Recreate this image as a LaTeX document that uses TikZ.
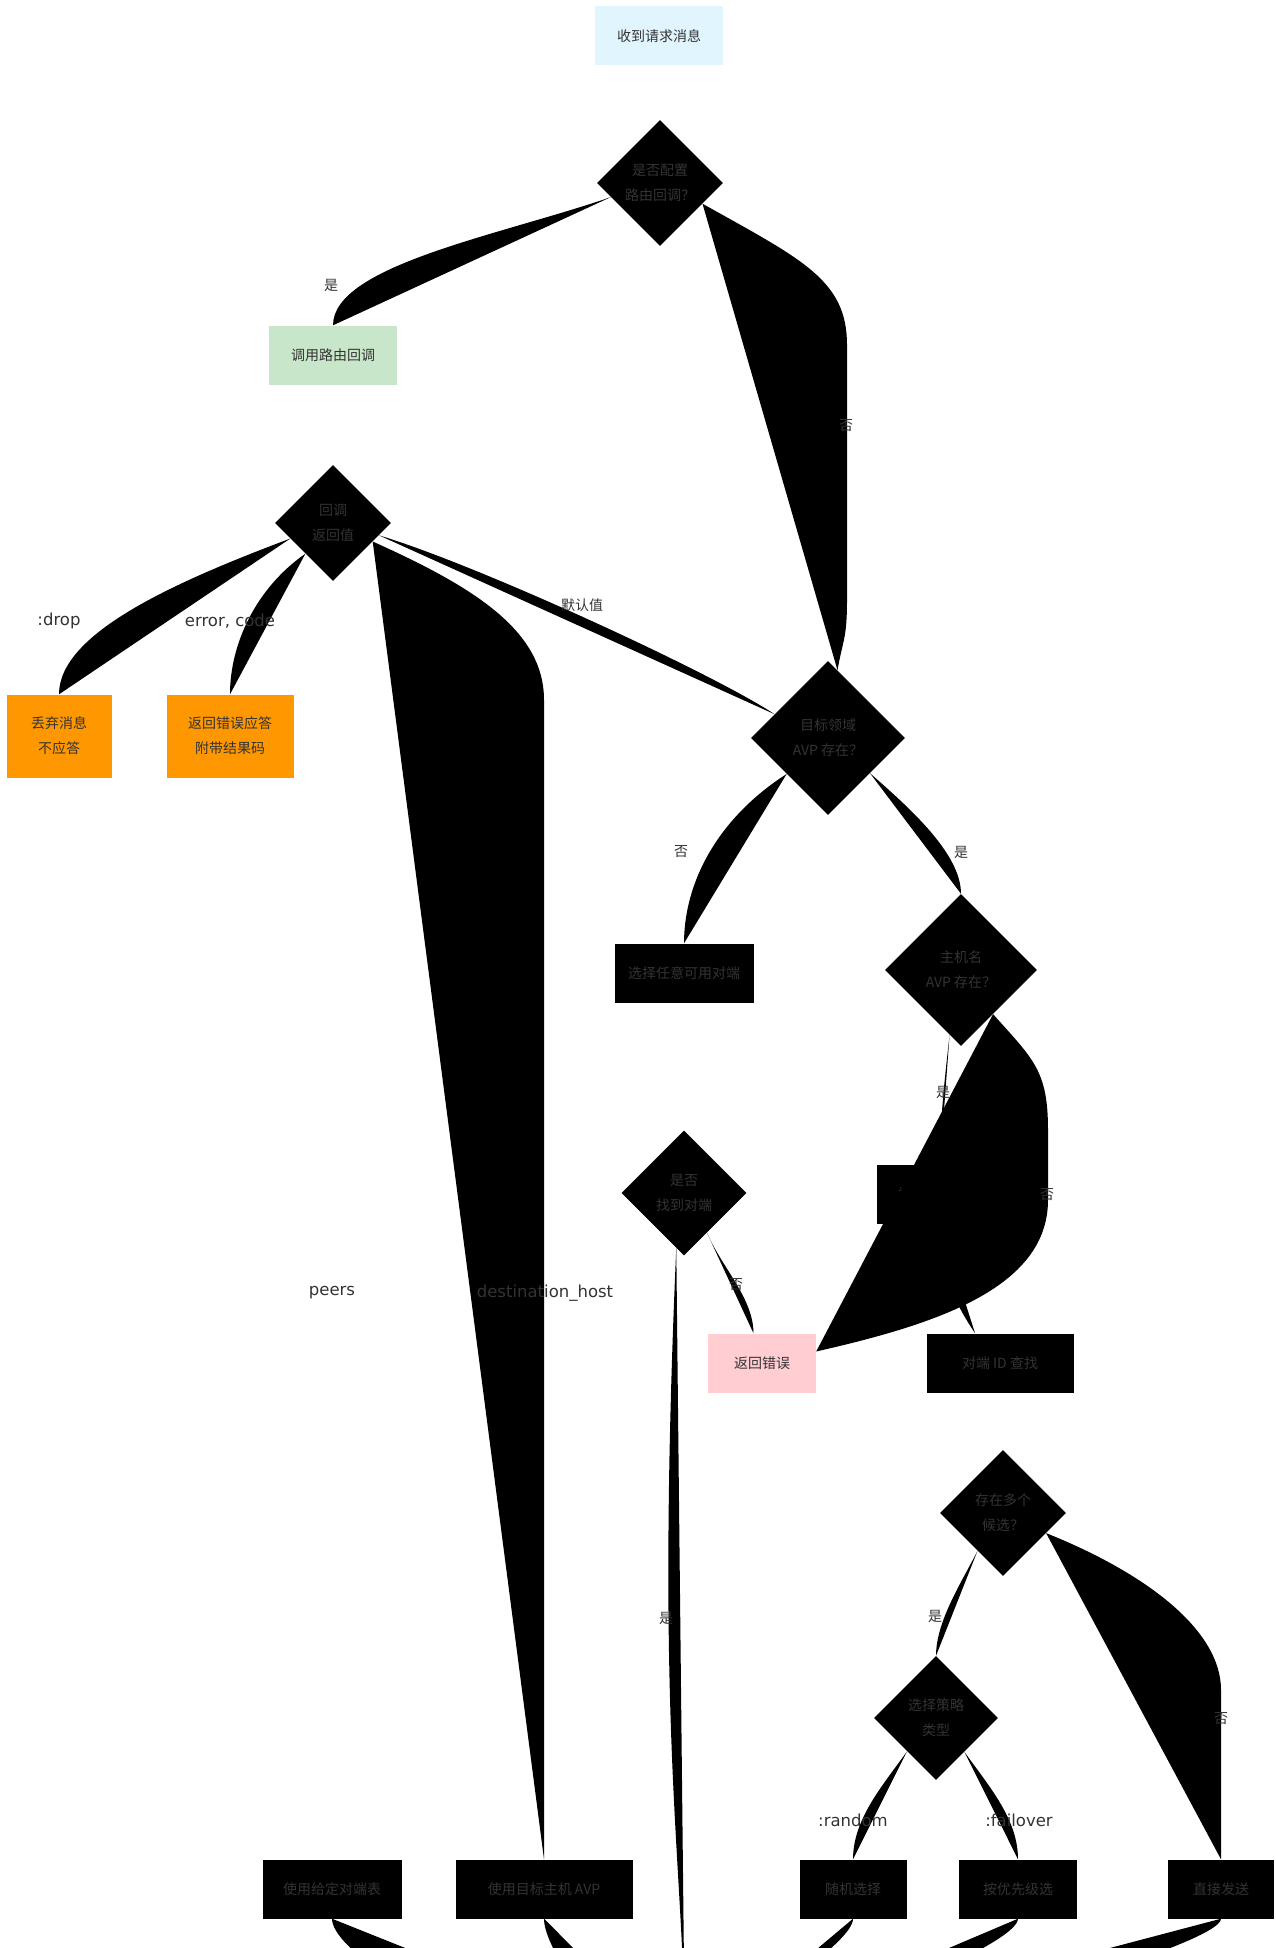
\documentclass[tikz,border=0pt]{standalone}
\usepackage{fontspec}
\setmainfont{DejaVu Sans}
\newfontfamily\cjk{Noto Sans CJK SC}
\usetikzlibrary{shapes.geometric}
\definecolor{txt}{HTML}{333333}
\definecolor{cTop}{HTML}{E1F5FE}
\definecolor{cGreen}{HTML}{C8E6C9}
\definecolor{cOrange}{HTML}{FF9800}
\definecolor{cPink}{HTML}{FFCDD2}

\begin{document}
\begin{tikzpicture}[x=1pt, y=-1pt]
    \tikzstyle{lbox} = [rectangle, draw=none, fill=black, text=txt, minimum height=59pt, inner sep=0pt, align=center, font=\cjk\fontsize{14}{25}\selectfont]
    \tikzstyle{dia} = [diamond, aspect=1, draw=none, fill=black, text=txt, inner sep=0pt, align=center, font=\cjk\fontsize{14}{25}\selectfont]
    \tikzstyle{link} = [fill=black, draw=none]
    \tikzstyle{lab} = [text=txt, inner sep=1pt, font=\fontsize{16.5}{20}\selectfont]
    \tikzstyle{zh} = [text=txt, inner sep=1pt, font=\cjk\fontsize{14}{18}\selectfont]
    \useasboundingbox (0,0) rectangle (1276,1948);
    \fill[white] (0,0) rectangle (1276,1948);
    \clip (0,0) rectangle (1276,1948);

    % nodes
    \node[lbox, fill=cTop, minimum width=128pt] (recv) at (659,36) {收到请求消息};
    \node[dia, minimum size=126pt] (cbq) at (660,183) {是否配置\\路由回调？};
    \node[lbox, fill=cGreen, minimum width=128pt] (call) at (333,355) {调用路由回调};
    \node[dia, minimum size=116pt] (ret) at (333,523) {回调\\返回值};
    \node[lbox, fill=cOrange, minimum width=105pt, minimum height=83pt] (drop) at (59,736) {丢弃消息\\不应答};
    \node[lbox, fill=cOrange, minimum width=127pt, minimum height=83pt] (err) at (230,736) {返回错误应答\\附带结果码};
    \node[dia, minimum size=154pt] (realm) at (828,738) {目标领域\\AVP 存在？};
    \node[lbox, minimum width=139pt] (anyp) at (684,973) {选择任意可用对端};
    \node[dia, minimum size=152pt] (host) at (961,970) {主机名\\AVP 存在？};
    \node[dia, minimum size=125pt] (found) at (684,1193) {是否\\找到对端};
    \node[lbox, minimum width=126pt] (match) at (940,1194) {按主机名匹配};
    \node[lbox, fill=cPink, minimum width=108pt] (fail) at (762,1363) {返回错误};
    \node[lbox, minimum width=147pt] (lookup) at (1000,1363) {对端 ID 查找};
    \node[dia, minimum size=126pt] (multi) at (1003,1513) {存在多个\\候选？};
    \node[dia, minimum size=124pt] (strat) at (936,1718) {选择策略\\类型};
    \node[lbox, minimum width=139pt] (usepeers) at (332,1889) {使用给定对端表};
    \node[lbox, minimum width=177pt] (usehost) at (544,1889) {使用目标主机 AVP};
    \node[lbox, minimum width=107pt] (rand) at (853,1889) {随机选择};
    \node[lbox, minimum width=118pt] (fover) at (1018,1889) {按优先级选};
    \node[lbox, minimum width=106pt] (direct) at (1221,1889) {直接发送};
    \coordinate (send) at (685,2060);

    % edges
    \path (recv) -- (cbq);
    \path[link] (cbq.196) .. controls +(-110,38) and +(0,-60) .. (call.north);
    \path[link] (cbq.334) .. controls +(100,56) and +(0,-65) .. (847,345) -- (847,600) .. controls +(0,40) and +(5,-30) .. (realm.82);
    \path (call) -- (ret);
    \path[link] (ret.200) .. controls +(-120,45) and +(0,-60) .. (drop.north);
    \path[link] (ret.228) .. controls +(-50,35) and +(0,-50) .. (err.north);
    \path (ret.south) -- (usepeers.north);
    \path[link] (ret.335) .. controls +(100,45) and +(0,-70) .. (544,700) -- (usehost.north);
    \path[link] (ret.345) .. controls +(100,30) and +(-60,-40) .. (realm.156);
    \path[link] (realm.221) .. controls +(-70,45) and +(0,-60) .. (anyp.north);
    \path[link] (realm.320) .. controls +(40,35) and +(0,-40) .. (host.north);
    \path (anyp) -- (found);
    \path[link] (host.260) .. controls +(-5,45) and +(0,-45) .. (match.north);
    \path[link] (host.306) .. controls +(40,45) and +(0,-60) .. (1048,1130) -- (1048,1200) .. controls +(0,90) and +(114,-26) .. (fail.12);
    \path[link] (match.south) .. controls +(0,50) and +(-20,-30) .. (lookup.130);
    \path (lookup) -- (multi);
    \path[link] (found.300) .. controls +(15,35) and +(0,-35) .. (fail.106);
    \path[link] (found.262) .. controls +(-22,500) and +(0,-200) .. (send);
    \path[link] (multi.236) .. controls +(-15,30) and +(0,-35) .. (strat.north);
    \path[link] (multi.335) .. controls +(100,40) and +(0,-60) .. (1221,1690) -- (direct.north);
    \path[link] (strat.229) .. controls +(-25,35) and +(0,-40) .. (rand.north);
    \path[link] (strat.310) .. controls +(25,35) and +(0,-40) .. (fover.north);
    \path[link] (usepeers.south) .. controls +(0,30) and +(-250,-30) .. (send);
    \path[link] (usehost.south) .. controls +(0,25) and +(-100,-40) .. (send);
    \path[link] (rand.south) .. controls +(0,25) and +(60,-50) .. (send);
    \path[link] (fover.south) .. controls +(0,25) and +(150,-40) .. (send);
    \path[link] (direct.south) .. controls +(0,25) and +(250,-30) .. (send);

    % edge labels
    \node[zh] (l1) at (331,285) {是};
    \node[zh] (l2) at (846,426) {否};
    \node[lab] (l3) at (59,621) {:drop};
    \node[lab] (l4) at (230,621) {error, code};
    \node[zh] (l5) at (582,605) {默认值};
    \node[lab] (l6) at (332,1293) {peers};
    \node[lab] (l7) at (545,1293) {destination\_host};
    \node[zh] (l8) at (681,852) {否};
    \node[zh] (l9) at (961,852) {是};
    \node[zh] (l10) at (943,1092) {是};
    \node[zh] (l11) at (1047,1195) {否};
    \node[zh] (l12) at (736,1285) {否};
    \node[zh] (l13) at (666,1618) {是};
    \node[zh] (l14) at (935,1616) {是};
    \node[zh] (l15) at (1221,1719) {否};
    \node[lab] (l16) at (853,1820) {:random};
    \node[lab] (l17) at (1019,1820) {:failover};
\end{tikzpicture}
\end{document}
